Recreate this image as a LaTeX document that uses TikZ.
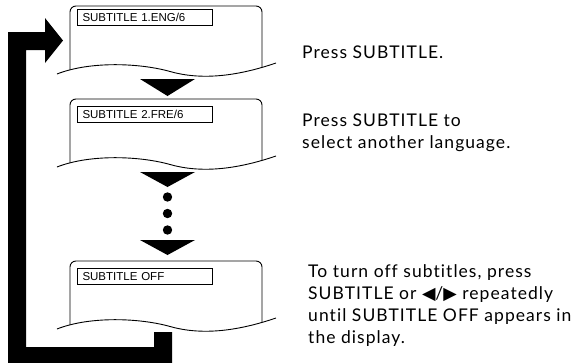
\documentclass[tikz,border=0pt]{standalone}
\usepackage{fontspec}
\setmainfont[LetterSpace=6,Ligatures={NoCommon,NoRare}]{Lato}
\newfontfamily\labelfont{Liberation Sans}
\newfontfamily\symfont{DejaVu Sans}
\newcommand\symL{{\symfont\fontsize{17.5}{17}\selectfont ◀}}
\newcommand\symR{{\symfont\fontsize{17.5}{17}\selectfont ▶}}
\begin{document}
\begin{tikzpicture}[x=1pt,y=-1pt,
  screenline/.style={line width=0.9pt, rounded corners=6pt},
  waveline/.style={line width=0.9pt},
  lbl/.style={draw, line width=1pt, anchor=north west, inner xsep=5pt, inner ysep=0pt,
    text width=125pt, minimum height=16pt, align=left,
    font=\labelfont\fontsize{11.5}{12}\selectfont},
  desc/.style={anchor=base west, align=left, inner sep=0pt,
    font=\fontsize{17.5}{21.8}\selectfont},
  tri/.style={fill=black},
  dot/.style={fill=black}]
\useasboundingbox (0,0) rectangle (584,362);

% screens
\foreach \dy in {0, 93, 255} {
  \begin{scope}[shift={(0,\dy)}]
    \draw[screenline] (70,70) -- (70,6) -- (262,6) -- (262,67.5);
    \draw[waveline] (57,74) .. controls (90,61) and (140,63) .. (170,71.5)
                            .. controls (200,80) and (235,77) .. (276,63);
  \end{scope}
}
\node[lbl] (l1) at (77,9) {SUBTITLE 1.ENG/6};
\node[lbl] (l2) at (77,106) {SUBTITLE 2.FRE/6};
\node[lbl] (l3) at (77,268) {SUBTITLE OFF};

% down triangles and dots
\fill[tri] (140,79) -- (195,79) -- (167.5,96) -- cycle;
\fill[tri] (140,172) -- (195,172) -- (167.5,187) -- cycle;
\fill[dot] (167.5,197) circle (4.7);
\fill[dot] (167.5,213.5) circle (4.7);
\fill[dot] (167.5,230) circle (4.7);
\fill[tri] (140,240) -- (195,240) -- (167.5,255) -- cycle;

% loop arrow
\fill (154,332) -- (172,332) -- (172,363) -- (8,363) -- (8,32) -- (45,32)
  -- (45,18) -- (63,40.5) -- (45,63) -- (45,50) -- (26,50) -- (26,347)
  -- (154,347) -- cycle;

% descriptions
\node[desc] (t1) at (302,58) {Press SUBTITLE.};
\node[desc] (t2) at (302,148) {Press SUBTITLE to\\select another language.};
\node[desc] (t3) at (308,343) {To turn off subtitles, press\\SUBTITLE or \symL/\symR{} repeatedly\\until SUBTITLE OFF appears in\\the display.};
\end{tikzpicture}
\end{document}
